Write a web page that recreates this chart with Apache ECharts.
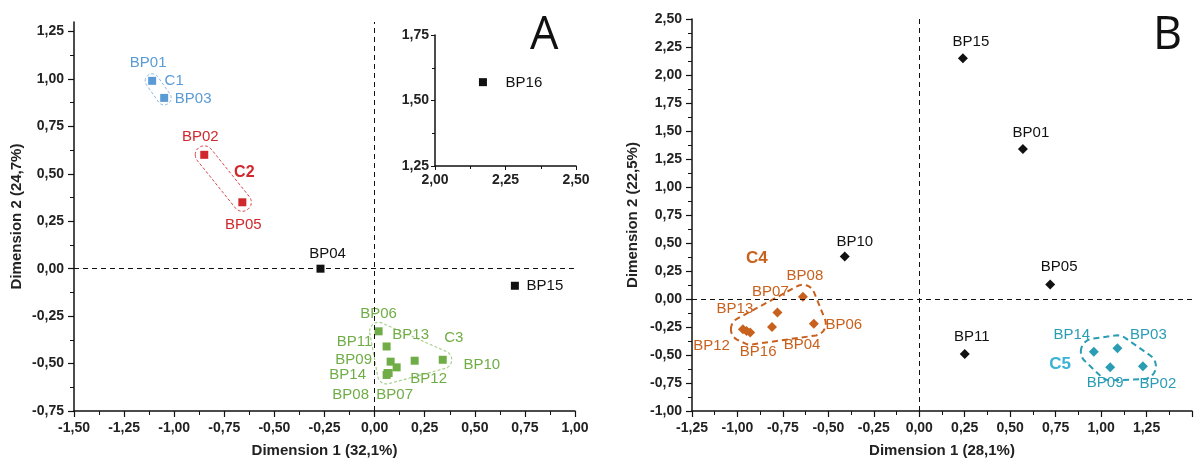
<!DOCTYPE html>
<html>
<head>
<meta charset="utf-8">
<title>Dimensions A / B</title>
<script src="https://cdn.jsdelivr.net/npm/echarts@6/dist/echarts.min.js"></script>
<style>
  html, body { margin: 0; padding: 0; background: #fff; }
  #chart { width: 1197px; height: 463px; }
</style>
</head>
<body>
<div id="chart"></div>
<script>
// ---- panel A data (Dimension 1 / Dimension 2) ----
var A_C1_NAMES = ['BP01', 'BP03']
var A_C1 = [[-1.11, 0.99], [-1.05, 0.90]]
var A_C2_NAMES = ['BP02', 'BP05']
var A_C2 = [[-0.85, 0.60], [-0.66, 0.35]]
var A_C3_NAMES = ['BP06', 'BP11', 'BP13', 'BP09', 'BP10', 'BP12', 'BP14', 'BP08', 'BP07']
var A_C3 = [[0.02, -0.33], [0.06, -0.41], [0.20, -0.485], [0.08, -0.49], [0.34, -0.48],
  [0.11, -0.52], [0.065, -0.55], [0.06, -0.56], [0.07, -0.55]]
var A_OTHER_NAMES = ['BP04', 'BP15']
var A_OTHER = [[-0.27, 0.00], [0.70, -0.09]]
var A_INSET_NAMES = ['BP16']
var A_INSET = [[2.17, 1.57]]

// ---- panel B data ----
var B_OTHER_NAMES = ['BP15', 'BP01', 'BP10', 'BP05', 'BP11']
var B_OTHER = [[0.24, 2.15], [0.57, 1.34], [-0.41, 0.38], [0.72, 0.13], [0.25, -0.49]]
var B_C4_NAMES = ['BP08', 'BP07', 'BP06', 'BP04', 'BP13', 'BP12', 'BP16']
var B_C4 = [[-0.64, 0.02], [-0.78, -0.12], [-0.58, -0.22], [-0.81, -0.25],
  [-0.97, -0.27], [-0.95, -0.285], [-0.93, -0.30]]
var B_C5_NAMES = ['BP14', 'BP03', 'BP09', 'BP02']
var B_C5 = [[0.96, -0.47], [1.09, -0.44], [1.05, -0.61], [1.23, -0.60]]

// label placement (px, relative to the point)
var OFFSET_A = {
  BP01: [-4, -18], BP03: [29, 1], BP02: [-4, -18], BP05: [1, 23],
  BP04: [7, -15], BP15: [30, 0], BP16: [41, 1],
  BP06: [0, -17], BP11: [-32, -5], BP13: [-4, -26], BP09: [-37, -2], BP10: [39, 5],
  BP12: [32, 12], BP14: [-40, 2], BP08: [-36, 20], BP07: [6, 22]
}
var OFFSET_B = {
  BP15: [8, -16], BP01: [8, -16], BP10: [10, -15], BP05: [9, -18], BP11: [7, -17],
  BP08: [2, -21], BP07: [-7, -21], BP06: [30, 1], BP04: [30, 18], BP13: [-8, -20],
  BP12: [-35, 15], BP16: [8, 19],
  BP14: [-22, -17], BP03: [31, -13], BP09: [-5, 16], BP02: [15, 18]
}

var FONT = 'Liberation Sans, Arial, sans-serif'
var BLUE = '#5B9BD5'
var RED = '#D0282C'
var GREEN = '#70AD47'
var ORANGE = '#C9611E'
var CYAN = '#2A9DB5'

function fmt(v) {
  if (Math.abs(v) < 1e-9) v = 0
  return v.toFixed(2).replace('.', ',')
}

function items(names, values, offsets) {
  return values.map(function(v, i) {
    return { name: names[i], value: v, label: { offset: offsets[names[i]] } }
  })
}

function axis(opt) {
  return Object.assign({
    type: 'value',
    nameLocation: 'middle',
    nameTextStyle: { fontFamily: FONT, fontSize: 15, fontWeight: 'bold', color: '#222' },
    axisLine: { show: true, onZero: false, lineStyle: { color: '#111', width: 1.5 } },
    axisTick: { show: true, inside: false, length: 6, lineStyle: { color: '#111', width: 1.2 } },
    minorTick: { show: true, splitNumber: 2, length: 4, lineStyle: { color: '#111', width: 1 } },
    splitLine: { show: false },
    axisLabel: { formatter: fmt, fontFamily: FONT, fontSize: 14, fontWeight: 'bold', color: '#222', margin: 10 }
  }, opt)
}

function scatter(idx, names, values, offsets, color, symbol, size) {
  return {
    type: 'scatter',
    xAxisIndex: idx, yAxisIndex: idx,
    symbol: symbol, symbolSize: size,
    itemStyle: { color: color, opacity: 1 },
    label: {
      show: true, position: 'inside', formatter: '{b}',
      fontFamily: FONT, fontSize: 15, color: color
    },
    data: items(names, values, offsets)
  }
}

var zeroLines = {
  silent: true,
  symbol: ['none', 'none'],
  label: { show: false },
  lineStyle: { color: '#111', type: [5, 4], width: 1 },
  animation: false,
  data: [{ xAxis: 0 }, { yAxis: 0 }]
}

var aTicks = [-0.75, -0.5, -0.25, 0, 0.25, 0.5, 0.75, 1, 1.25]

var chart = echarts.init(document.getElementById('chart'), null, { renderer: 'canvas' })
chart.setOption({
  animation: false,
  backgroundColor: '#fff',
  grid: [
    { left: 74, right: 622, top: 22, bottom: 50 },
    { left: 435, top: 35, width: 141, height: 131 },
    { left: 692, right: 5, top: 19, bottom: 50 }
  ],
  xAxis: [
    axis({ gridIndex: 0, min: -1.5, max: 1.0, interval: 0.25, name: 'Dimension 1 (32,1%)', nameGap: 32 }),
    axis({ gridIndex: 1, min: 2.0, max: 2.5, interval: 0.25,
      axisTick: { length: 4, lineStyle: { color: '#111' } },
      minorTick: { show: true, splitNumber: 2, length: 3, lineStyle: { color: '#111' } },
      axisLabel: { formatter: fmt, fontFamily: FONT, fontSize: 14, fontWeight: 'bold', color: '#222', margin: 7 } }),
    axis({ gridIndex: 2, min: -1.25, max: 1.5, interval: 0.25, name: 'Dimension 1 (28,1%)', nameGap: 32,
      axisLabel: { formatter: fmt, fontFamily: FONT, fontSize: 14, fontWeight: 'bold', color: '#222', margin: 10, showMaxLabel: false } })
  ],
  yAxis: [
    axis({ gridIndex: 0, min: -0.75, max: 1.3, interval: 0.25, name: 'Dimension 2 (24,7%)', nameGap: 50,
      axisTick: { length: 6, customValues: aTicks, lineStyle: { color: '#111', width: 1.2 } },
      axisLabel: { formatter: fmt, fontFamily: FONT, fontSize: 14, fontWeight: 'bold', color: '#222', margin: 10, customValues: aTicks } }),
    axis({ gridIndex: 1, min: 1.25, max: 1.75, interval: 0.25,
      axisTick: { length: 4, lineStyle: { color: '#111' } },
      minorTick: { show: true, splitNumber: 2, length: 3, lineStyle: { color: '#111' } },
      axisLabel: { formatter: fmt, fontFamily: FONT, fontSize: 14, fontWeight: 'bold', color: '#222', margin: 6 } }),
    axis({ gridIndex: 2, min: -1.0, max: 2.5, interval: 0.25, name: 'Dimension 2 (22,5%)', nameGap: 52 })
  ],
  series: [
    Object.assign(scatter(0, A_OTHER_NAMES, A_OTHER, OFFSET_A, '#111', 'rect', 8), { markLine: zeroLines }),
    scatter(0, A_C1_NAMES, A_C1, OFFSET_A, BLUE, 'rect', 8),
    scatter(0, A_C2_NAMES, A_C2, OFFSET_A, RED, 'rect', 8),
    scatter(0, A_C3_NAMES, A_C3, OFFSET_A, GREEN, 'rect', 8),
    scatter(1, A_INSET_NAMES, A_INSET, OFFSET_A, '#111', 'rect', 8),
    Object.assign(scatter(2, B_OTHER_NAMES, B_OTHER, OFFSET_B, '#111', 'diamond', 10), { markLine: zeroLines }),
    scatter(2, B_C4_NAMES, B_C4, OFFSET_B, ORANGE, 'diamond', 10),
    scatter(2, B_C5_NAMES, B_C5, OFFSET_B, CYAN, 'diamond', 10)
  ]
})

// cluster outlines: padded convex hull of the member points, in pixels
function convexHull(pts) {
  pts = pts.slice().sort(function(a, b) { return a[0] - b[0] || a[1] - b[1] })
  function cross(o, a, b) { return (a[0] - o[0]) * (b[1] - o[1]) - (a[1] - o[1]) * (b[0] - o[0]) }
  var lower = [], upper = []
  pts.forEach(function(p) {
    while (lower.length >= 2 && cross(lower[lower.length - 2], lower[lower.length - 1], p) <= 0) lower.pop()
    lower.push(p)
  })
  for (var i = pts.length - 1; i >= 0; i--) {
    var p = pts[i]
    while (upper.length >= 2 && cross(upper[upper.length - 2], upper[upper.length - 1], p) <= 0) upper.pop()
    upper.push(p)
  }
  upper.pop(); lower.pop()
  return lower.concat(upper)
}

function outline(gridIndex, values, pad, color, width, dash) {
  var ring = []
  values.forEach(function(v) {
    var p = chart.convertToPixel({ gridIndex: gridIndex }, v)
    for (var k = 0; k < 36; k++) {
      var a = k / 36 * Math.PI * 2
      ring.push([p[0] + Math.cos(a) * pad, p[1] + Math.sin(a) * pad])
    }
  })
  return {
    type: 'polygon', silent: true, z: 1,
    shape: { points: convexHull(ring) },
    style: { fill: 'none', stroke: color, lineWidth: width, lineDash: dash }
  }
}

function clusterLabel(gridIndex, anchor, dx, dy, text, color, size, bold) {
  var p = chart.convertToPixel({ gridIndex: gridIndex }, anchor)
  return {
    type: 'text', silent: true, z: 10,
    x: p[0] + dx, y: p[1] + dy,
    style: {
      text: text, fill: color, font: (bold ? 'bold ' : '') + size + 'px ' + FONT,
      textAlign: 'center', textVerticalAlign: 'middle'
    }
  }
}

chart.setOption({
  graphic: [
    outline(0, A_C1, 7, '#8DB8E3', 1, [3, 2]),
    outline(0, A_C2, 9, '#D9474A', 1, [3, 2]),
    outline(0, A_C3, 9, '#A9D18E', 1.2, [3, 2]),
    outline(2, B_C4, 12, ORANGE, 2, [6, 4]),
    outline(2, B_C5, 13, CYAN, 2, [6, 4]),
    clusterLabel(0, A_C1[0], 22, 0, 'C1', BLUE, 15, false),
    clusterLabel(0, A_C2[1], 2, -30, 'C2', RED, 16, true),
    clusterLabel(0, A_C3[4], 11, -22, 'C3', GREEN, 15, false),
    clusterLabel(2, B_C4[0], -46, -38, 'C4', ORANGE, 17, true),
    clusterLabel(2, B_C5[2], -50, -3, 'C5', '#38B2D6', 17, true),
    { type: 'text', silent: true, x: 530, y: 14,
      style: { text: 'A', fill: '#111', font: '45px Open Sans, sans-serif' } },
    { type: 'text', silent: true, x: 1153, y: 14,
      style: { text: 'B', fill: '#111', font: '45px Open Sans, sans-serif' } }
  ]
})
</script>
</body>
</html>
